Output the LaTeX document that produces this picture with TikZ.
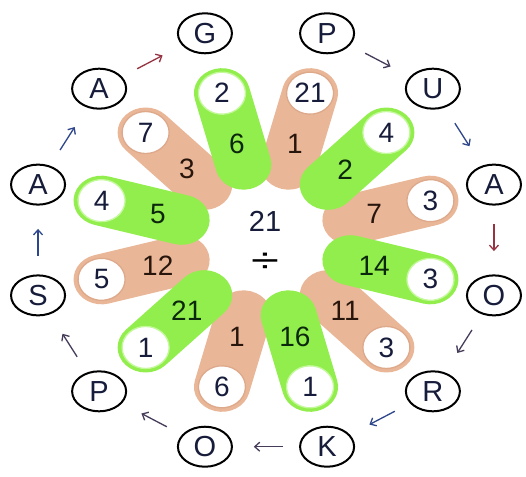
\documentclass[tikz,border=0pt]{standalone}
\usepackage{fontspec}
\setmainfont{Liberation Sans}
\usetikzlibrary{shapes.geometric,arrows.meta,calc}
\definecolor{petalgreen}{RGB}{146,238,76}
\definecolor{petaltan}{RGB}{233,183,152}
\definecolor{ringgreen}{RGB}{195,248,155}
\definecolor{ringtan}{RGB}{222,168,138}
\definecolor{numblue}{RGB}{22,28,58}
\definecolor{numgreen}{RGB}{12,40,12}
\definecolor{numbrown}{RGB}{40,22,12}
\definecolor{arrred}{RGB}{150,50,65}
\definecolor{arrblue}{RGB}{45,70,140}
\definecolor{arrdark}{RGB}{70,60,90}
\tikzset{
  letterbox/.style={ellipse, draw=black, line width=2pt, minimum width=54pt, minimum height=40pt, inner sep=0pt, text=numblue, font=\fontsize{29}{32}\selectfont},
  outnum/.style={inner sep=0pt, text=numblue, font=\fontsize{28}{31}\selectfont},
  innumg/.style={inner sep=0pt, text=numgreen, font=\fontsize{28}{31}\selectfont},
  innumt/.style={inner sep=0pt, text=numbrown, font=\fontsize{28}{31}\selectfont},
  arr/.style={line width=1.3pt, -{Straight Barb[length=5pt,width=9pt]}},
  petalring/.style={fill=white, line width=1.3pt}
}
\begin{document}
\begin{tikzpicture}[x=1pt,y=1pt]
\useasboundingbox (0,-476) rectangle (526,0);
\fill[white] (0,-476) rectangle (526,0);
\begin{scope}[shift={(266,-240)},xscale=1.12]
  % tan petals
  \foreach \a in {75,15,-45,-105,-165,135} {
    \begin{scope}[rotate=\a]
      \fill[petaltan] (78,-25) -- (152,-25) arc[start angle=-90,end angle=90,radius=25] -- (78,25) arc[start angle=90,end angle=270,radius=25] -- cycle;
      \filldraw[petalring, draw=ringtan] (152,0) circle[radius=21];
    \end{scope}
  }
  % green petals
  \foreach \a in {105,45,-15,-75,-135,165} {
    \begin{scope}[rotate=\a]
      \fill[petalgreen] (78,-25) -- (152,-25) arc[start angle=-90,end angle=90,radius=25] -- (78,25) arc[start angle=90,end angle=270,radius=25] -- cycle;
      \filldraw[petalring, draw=ringgreen] (152,0) circle[radius=21];
    \end{scope}
  }
  % numbers on tan petals
  \foreach \a/\o/\i [count=\k] in {75/21/1, 15/3/7, -45/3/11, -105/6/1, -165/5/12, 135/7/3} {
    \node[outnum] (to\k) at (\a:152) {\o};
    \node[innumt] (ti\k) at (\a:100) {\i};
  }
  % numbers on green petals
  \foreach \a/\o/\i [count=\k] in {105/2/6, 45/4/2, -15/3/14, -75/1/16, -135/1/21, 165/4/5} {
    \node[outnum] (go\k) at (\a:152) {\o};
    \node[innumg] (gi\k) at (\a:100) {\i};
  }
\end{scope}
% centre
\node[outnum, font=\fontsize{29}{32}\selectfont] (ctop) at (265,-221) {21};
\node[inner sep=0pt, text=black, font=\fontsize{29}{32}\selectfont] (cdiv) at (265,-263) {\scalebox{1.75}[1.2]{÷}};
% letters
\begin{scope}[shift={(266,-240)}]
  \node[letterbox] (L1) at (75:236 and 214) {P};
  \node[letterbox] (L2) at (45:236 and 214) {U};
  \node[letterbox] (L3) at (15:236 and 214) {A};
  \node[letterbox] (L4) at (-15:236 and 214) {O};
  \node[letterbox] (L5) at (-45:236 and 214) {R};
  \node[letterbox] (L6) at (-75:236 and 214) {K};
  \node[letterbox] (L7) at (-105:236 and 214) {O};
  \node[letterbox] (L8) at (-135:236 and 214) {P};
  \node[letterbox] (L9) at (-165:236 and 214) {S};
  \node[letterbox] (L10) at (165:236 and 214) {A};
  \node[letterbox] (L11) at (135:236 and 214) {A};
  \node[letterbox] (L12) at (105:236 and 214) {G};
\end{scope}
% arrows
\draw[arr, arrdark] ($(L1)!0.36!(L2)$) -- ($(L1)!0.6!(L2)$);
\draw[arr, arrblue] ($(L2)!0.36!(L3)$) -- ($(L2)!0.6!(L3)$);
\draw[arr, arrred] ($(L3)!0.36!(L4)$) -- ($(L3)!0.6!(L4)$);
\draw[arr, arrdark] ($(L4)!0.36!(L5)$) -- ($(L4)!0.6!(L5)$);
\draw[arr, arrblue] ($(L5)!0.36!(L6)$) -- ($(L5)!0.6!(L6)$);
\draw[arr, arrdark] ($(L6)!0.36!(L7)$) -- ($(L6)!0.6!(L7)$);
\draw[arr, arrdark] ($(L7)!0.36!(L8)$) -- ($(L7)!0.6!(L8)$);
\draw[arr, arrdark] ($(L8)!0.36!(L9)$) -- ($(L8)!0.6!(L9)$);
\draw[arr, arrblue] ($(L9)!0.36!(L10)$) -- ($(L9)!0.6!(L10)$);
\draw[arr, arrblue] ($(L10)!0.36!(L11)$) -- ($(L10)!0.6!(L11)$);
\draw[arr, arrred] ($(L11)!0.36!(L12)$) -- ($(L11)!0.6!(L12)$);
\end{tikzpicture}
\end{document}
